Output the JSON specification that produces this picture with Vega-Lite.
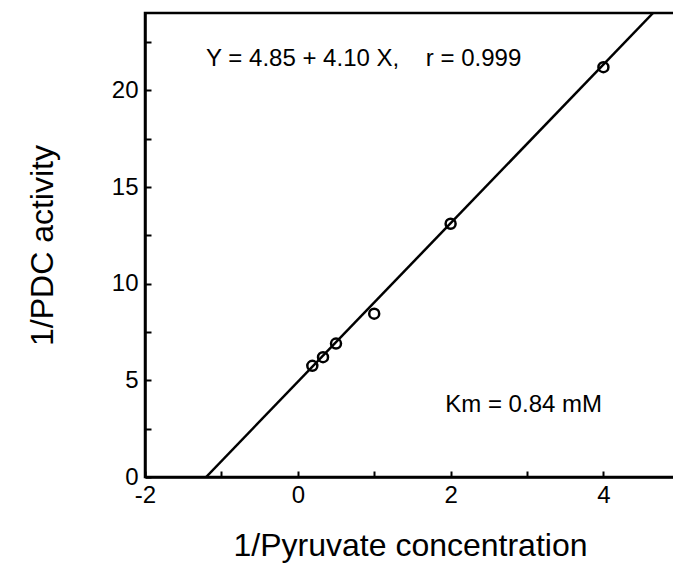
{
  "$schema": "https://vega.github.io/schema/vega-lite/v6.json",
  "width": 530,
  "height": 464,
  "autosize": {"type": "none"},
  "padding": {"left": 145, "top": 13, "right": 0, "bottom": 89},
  "background": "white",
  "config": {
    "view": {"stroke": "black", "strokeWidth": 2.5},
    "font": "Liberation Sans",
    "axis": {
      "domainColor": "black", "domainWidth": 2.5, "tickColor": "black", "tickWidth": 2,
      "labelColor": "black", "titleColor": "black", "grid": false,
      "labelFont": "Liberation Sans", "titleFont": "Liberation Sans",
      "labelFontSize": 24, "titleFontSize": 32, "titleFontWeight": "normal"
    }
  },
  "datasets": {
    "points": [
      {"x": 0.19, "y": 5.75},
      {"x": 0.33, "y": 6.2},
      {"x": 0.5, "y": 6.9},
      {"x": 1.0, "y": 8.45},
      {"x": 2.0, "y": 13.1},
      {"x": 4.0, "y": 21.2}
    ],
    "fit": [
      {"x": -1.2, "y": 0},
      {"x": 4.65, "y": 24}
    ],
    "notes": [
      {"x": -1.2, "y": 21.6, "text": "Y = 4.85 + 4.10 X,\u00a0\u00a0\u00a0\u00a0r = 0.999"},
      {"x": 1.93, "y": 3.7, "text": "Km = 0.84 mM"}
    ]
  },
  "layer": [
    {
      "data": {"name": "fit"},
      "mark": {"type": "line", "color": "black", "strokeWidth": 2.5, "clip": true},
      "encoding": {
        "x": {
          "field": "x", "type": "quantitative",
          "scale": {"domain": [-2, 4.937], "nice": false, "zero": false},
          "axis": {
            "title": "1/Pyruvate concentration",
            "values": [-2, -1, 0, 1, 2, 3, 4],
            "labelExpr": "datum.value % 2 === 0 ? '' + datum.value : ''",
            "tickSize": -6,
            "labelPadding": 12,
            "titlePadding": 23,
            "labelFlush": false
          }
        },
        "y": {
          "field": "y", "type": "quantitative",
          "scale": {"domain": [0, 24], "nice": false},
          "axis": {
            "title": "1/PDC activity",
            "values": [0, 2.5, 5, 7.5, 10, 12.5, 15, 17.5, 20, 22.5],
            "labelExpr": "datum.value % 5 === 0 ? '' + datum.value : ''",
            "tickSize": -6,
            "labelPadding": 13,
            "titlePadding": 52,
            "labelFlush": false
          }
        }
      }
    },
    {
      "data": {"name": "points"},
      "mark": {"type": "point", "shape": "circle", "filled": false, "color": "black", "strokeWidth": 2.5, "size": 100, "opacity": 1},
      "encoding": {
        "x": {"field": "x", "type": "quantitative"},
        "y": {"field": "y", "type": "quantitative"}
      }
    },
    {
      "data": {"name": "notes"},
      "mark": {"type": "text", "align": "left", "baseline": "middle", "fontSize": 24, "color": "black", "font": "Liberation Sans"},
      "encoding": {
        "x": {"field": "x", "type": "quantitative"},
        "y": {"field": "y", "type": "quantitative"},
        "text": {"field": "text"}
      }
    }
  ]
}
